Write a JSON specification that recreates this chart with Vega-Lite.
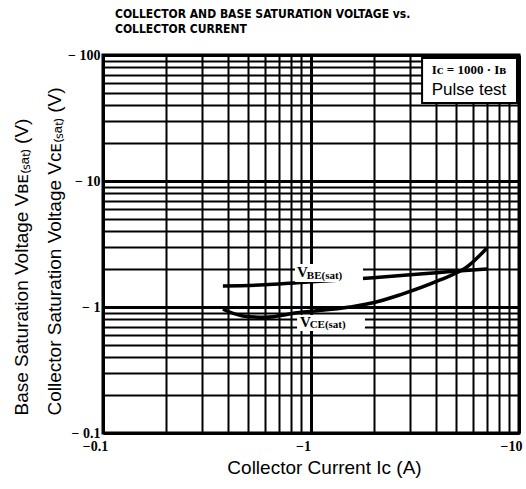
{
  "$schema": "https://vega.github.io/schema/vega-lite/v6.json",
  "width": 416,
  "height": 378,
  "autosize": {"type": "none"},
  "padding": {"left": 103, "top": 55, "right": 7, "bottom": 56},
  "background": "white",
  "config": {"view": {"stroke": "black", "strokeWidth": 3}},
  "title": {
    "text": ["COLLECTOR AND BASE SATURATION VOLTAGE vs.", "COLLECTOR CURRENT"],
    "anchor": "start",
    "frame": "group",
    "dx": 12,
    "offset": 12,
    "font": "DejaVu Sans Condensed",
    "fontSize": 12,
    "fontWeight": "bold",
    "lineHeight": 15,
    "color": "black"
  },
  "layer": [
    {
      "data": {
        "values": [
          {"curve": "VBE", "ic": 0.377, "v": 1.47},
          {"curve": "VBE", "ic": 0.6, "v": 1.5},
          {"curve": "VBE", "ic": 0.857, "v": 1.56},
          {"curve": "VBE", "ic": 1.4, "v": 1.64},
          {"curve": "VBE", "ic": 1.99, "v": 1.71},
          {"curve": "VBE", "ic": 3.0, "v": 1.8},
          {"curve": "VBE", "ic": 4.17, "v": 1.88},
          {"curve": "VBE", "ic": 5.5, "v": 1.95},
          {"curve": "VBE", "ic": 7.02, "v": 2.0},
          {"curve": "VCE", "ic": 0.377, "v": 0.96},
          {"curve": "VCE", "ic": 0.47, "v": 0.85},
          {"curve": "VCE", "ic": 0.6, "v": 0.83},
          {"curve": "VCE", "ic": 0.857, "v": 0.9},
          {"curve": "VCE", "ic": 1.54, "v": 1.0},
          {"curve": "VCE", "ic": 1.99, "v": 1.08},
          {"curve": "VCE", "ic": 2.68, "v": 1.25},
          {"curve": "VCE", "ic": 4.17, "v": 1.64},
          {"curve": "VCE", "ic": 5.62, "v": 2.08},
          {"curve": "VCE", "ic": 7.02, "v": 2.94}
        ]
      },
      "mark": {"type": "line", "color": "black", "strokeWidth": 3.5, "interpolate": "monotone"},
      "encoding": {
        "detail": {"field": "curve"},
        "x": {
          "field": "ic",
          "type": "quantitative",
          "scale": {"type": "log", "domain": [0.1, 10]},
          "axis": {
            "values": [0.1, 0.2, 0.3, 0.4, 0.5, 0.6, 0.7, 0.8, 0.9, 1, 2, 3, 4, 5, 6, 7, 8, 9, 10],
            "labelExpr": "indexof([0.1, 1, 10], datum.value) >= 0 ? '−' + datum.value : ''",
            "labelFont": "Liberation Serif",
            "labelFontWeight": "bold",
            "labelFontSize": 14,
            "labelColor": "black",
            "labelPadding": 6,
            "labelOffset": -8,
            "labelFlush": false,
            "labelOverlap": false,
            "labelBound": false,
            "ticks": false,
            "domain": false,
            "grid": true,
            "gridColor": "black",
            "gridOpacity": 1,
            "gridWidth": {"condition": {"test": "indexof([0.1, 1, 10], datum.value) >= 0", "value": 3}, "value": 2},
            "title": "Collector Current  Iᴄ  (A)",
            "titleFont": "Liberation Sans",
            "titleFontWeight": "normal",
            "titleFontSize": 19,
            "titleColor": "black",
            "titleX": 221,
            "titleY": 34,
            "titleBaseline": "middle",
            "titleAlign": "center"
          }
        },
        "y": {
          "field": "v",
          "type": "quantitative",
          "scale": {"type": "log", "domain": [0.1, 100]},
          "axis": {
            "values": [0.1, 0.2, 0.3, 0.4, 0.5, 0.6, 0.7, 0.8, 0.9, 1, 2, 3, 4, 5, 6, 7, 8, 9, 10, 20, 30, 40, 50, 60, 70, 80, 90, 100],
            "labelExpr": "indexof([0.1, 1, 10, 100], datum.value) >= 0 ? '− ' + datum.value : ''",
            "labelFont": "Liberation Serif",
            "labelFontWeight": "bold",
            "labelFontSize": 14,
            "labelColor": "black",
            "labelPadding": 3,
            "labelFlush": false,
            "labelOverlap": false,
            "ticks": false,
            "domain": false,
            "grid": true,
            "gridColor": "black",
            "gridOpacity": 1,
            "gridWidth": {"condition": {"test": "indexof([0.1, 1, 10, 100], datum.value) >= 0", "value": 3}, "value": 2},
            "title": ["Base Saturation Voltage  Vʙᴇ₍ₛₐₜ₎   (V)", "Collector Saturation Voltage Vᴄᴇ₍ₛₐₜ₎   (V)"],
            "titleFont": "Liberation Sans",
            "titleFontWeight": "normal",
            "titleFontSize": 19,
            "titleColor": "black",
            "titleAngle": 270,
            "titleAlign": "left",
            "titleBaseline": "middle",
            "titleLineHeight": 33,
            "titleX": -82,
            "titleY": 360
          }
        }
      }
    },
    {
      "data": {"values": [{}]},
      "mark": {"type": "rect", "fill": "white", "stroke": null},
      "encoding": {
        "x": {"datum": 0.838, "type": "quantitative", "scale": {"type": "log", "domain": [0.1, 10]}},
        "x2": {"datum": 1.778},
        "y": {"datum": 2.19, "type": "quantitative", "scale": {"type": "log", "domain": [0.1, 100]}},
        "y2": {"datum": 1.58}
      }
    },
    {
      "data": {"values": [{}]},
      "mark": {"type": "rect", "fill": "white", "stroke": null},
      "encoding": {
        "x": {"datum": 0.857, "type": "quantitative", "scale": {"type": "log", "domain": [0.1, 10]}},
        "x2": {"datum": 1.817},
        "y": {"datum": 0.864, "type": "quantitative", "scale": {"type": "log", "domain": [0.1, 100]}},
        "y2": {"datum": 0.645}
      }
    },
    {
      "data": {"values": [{}]},
      "mark": {"type": "rect", "fill": "white", "stroke": "black", "strokeWidth": 2},
      "encoding": {
        "x": {"datum": 3.42, "type": "quantitative", "scale": {"type": "log", "domain": [0.1, 10]}},
        "x2": {"datum": 9.78},
        "y": {"datum": 94.6, "type": "quantitative", "scale": {"type": "log", "domain": [0.1, 100]}},
        "y2": {"datum": 41.6}
      }
    },
    {
      "data": {"values": [{}]},
      "mark": {"type": "text", "text": "V", "font": "Liberation Serif", "fontWeight": "bold", "fontSize": 15, "align": "left", "baseline": "middle", "color": "black"},
      "encoding": {
        "x": {"datum": 0.856, "type": "quantitative", "scale": {"type": "log"}},
        "y": {"datum": 1.9, "type": "quantitative", "scale": {"type": "log"}}
      }
    },
    {
      "data": {"values": [{}]},
      "mark": {"type": "text", "text": "BE(sat)", "font": "Liberation Serif", "fontWeight": "bold", "fontSize": 11, "align": "left", "baseline": "middle", "color": "black"},
      "encoding": {
        "x": {"datum": 0.955, "type": "quantitative", "scale": {"type": "log"}},
        "y": {"datum": 1.76, "type": "quantitative", "scale": {"type": "log"}}
      }
    },
    {
      "data": {"values": [{}]},
      "mark": {"type": "text", "text": "V", "font": "Liberation Serif", "fontWeight": "bold", "fontSize": 15, "align": "left", "baseline": "middle", "color": "black"},
      "encoding": {
        "x": {"datum": 0.885, "type": "quantitative", "scale": {"type": "log"}},
        "y": {"datum": 0.76, "type": "quantitative", "scale": {"type": "log"}}
      }
    },
    {
      "data": {"values": [{}]},
      "mark": {"type": "text", "text": "CE(sat)", "font": "Liberation Serif", "fontWeight": "bold", "fontSize": 11, "align": "left", "baseline": "middle", "color": "black"},
      "encoding": {
        "x": {"datum": 0.985, "type": "quantitative", "scale": {"type": "log"}},
        "y": {"datum": 0.72, "type": "quantitative", "scale": {"type": "log"}}
      }
    },
    {
      "data": {"values": [{}]},
      "mark": {"type": "text", "text": "Iᴄ = 1000 · Iʙ", "font": "Liberation Serif", "fontWeight": "bold", "fontSize": 13, "align": "center", "baseline": "middle", "color": "black"},
      "encoding": {
        "x": {"datum": 5.75, "type": "quantitative", "scale": {"type": "log"}},
        "y": {"datum": 75.9, "type": "quantitative", "scale": {"type": "log"}}
      }
    },
    {
      "data": {"values": [{}]},
      "mark": {"type": "text", "text": "Pulse test", "font": "Liberation Sans", "fontSize": 17, "align": "center", "baseline": "middle", "color": "black"},
      "encoding": {
        "x": {"datum": 5.75, "type": "quantitative", "scale": {"type": "log"}},
        "y": {"datum": 52.5, "type": "quantitative", "scale": {"type": "log"}}
      }
    }
  ]
}
